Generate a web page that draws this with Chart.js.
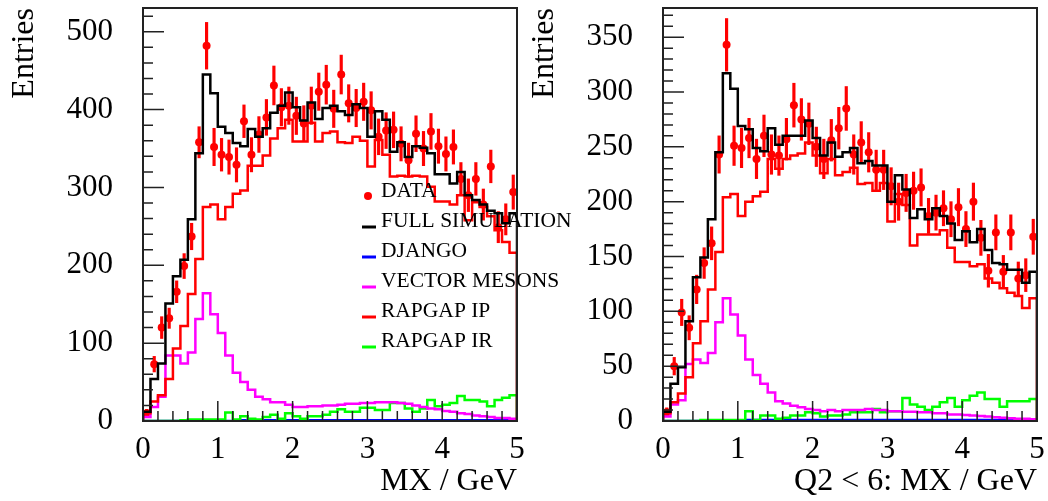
<!DOCTYPE html>
<html>
<head>
<meta charset="utf-8">
<script src="https://cdn.jsdelivr.net/npm/chart.js@4.4.1/dist/chart.umd.min.js"></script>
<style>
  body { margin: 0; background: #fff; }
  #wrap { position: relative; width: 1048px; height: 501px; }
  canvas { position: absolute; left: 0; top: 0; }
</style>
</head>
<body>
<div id="wrap">
  <canvas id="chartLeft" width="1048" height="501"></canvas>
  <canvas id="chartRight" width="1048" height="501"></canvas>
</div>
<script>
// 50 bins of 0.1 GeV from 0 to 5
var binWidth = 0.1;
var xTicks = [0, 1, 2, 3, 4, 5];
var yTicksLeft = [0, 100, 200, 300, 400, 500];
var yTicksRight = [0, 50, 100, 150, 200, 250, 300, 350];
var legendLabels = ['DATA', 'FULL SIMULATION', 'DJANGO', 'VECTOR MESONS', 'RAPGAP IP', 'RAPGAP IR'];

// Left: all Q2
var dataLeft = [10, 73, 120, 132, 166, 199, 237, 358, 482, 352, 342, 339, 329, 385, 342, 368, 390, 431, 403, 405,
  392, 382, 405, 423, 432, 401, 445, 408, 402, 410, 399, 365, 373, 374, 356, 335, 369, 350, 372, 353,
  343, 352, 311, 290, 311, 278, 327, 249, 259, 294];
var errLeft = [5, 10, 14, 13, 14, 16, 17, 20, 30, 24, 21, 22, 22, 21, 22, 23, 23, 25, 24, 24,
  24, 23, 24, 24, 25, 24, 25, 24, 24, 24, 24, 23, 23, 23, 22, 22, 23, 22, 23, 22,
  22, 22, 21, 21, 21, 20, 21, 20, 20, 22];
var fullSimLeft = [12, 54, 74, 151, 186, 207, 259, 344, 445, 421, 378, 370, 357, 353, 375, 365, 376, 396, 405, 422,
  403, 386, 409, 388, 402, 405, 398, 393, 407, 402, 365, 398, 387, 346, 358, 339, 353, 351, 344, 317,
  317, 305, 320, 290, 284, 278, 270, 267, 254, 267];
var djangoLeft = [0, 0, 0, 0, 0, 0, 0, 0, 0, 0, 0, 0, 0, 1, 1, 1, 1, 1, 1, 1,
  1, 1, 1, 1, 1, 1, 1, 1, 1, 1, 1, 1, 1, 1, 1, 1, 1, 1, 1, 1,
  1, 1, 1, 1, 1, 1, 1, 1, 1, 1];
var vmLeft = [5, 18, 31, 84, 84, 74, 88, 131, 164, 137, 113, 84, 62, 50, 40, 31, 28, 24, 24, 21,
  18, 18, 19, 19, 20, 20, 21, 22, 22, 23, 23, 24, 24, 24, 23, 22, 20, 18, 16, 15,
  13, 12, 10, 9, 7, 6, 5, 4, 4, 3];
var rapgapIpLeft = [10, 25, 33, 54, 93, 122, 163, 208, 275, 278, 259, 275, 292, 296, 328, 328, 341, 363, 376, 387,
  359, 359, 383, 359, 370, 372, 358, 357, 365, 360, 327, 361, 342, 314, 315, 314, 315, 314, 301, 282,
  282, 278, 290, 258, 281, 275, 263, 245, 230, 216];
var rapgapIrLeft = [0, 0, 0, 0, 0, 1, 2, 2, 2, 2, 2, 11, 2, 6, 3, 2, 5, 8, 3, 10,
  6, 3, 6, 6, 8, 12, 15, 12, 12, 17, 17, 14, 14, 23, 23, 16, 12, 16, 27, 19,
  21, 23, 32, 27, 27, 25, 19, 27, 30, 33];

// Right: Q2 < 6
var dataRight = [8, 50, 99, 85, 120, 144, 162, 243, 343, 251, 249, 258, 239, 260, 243, 242, 257, 288, 275, 271,
  250, 239, 256, 267, 285, 243, 254, 245, 229, 229, 214, 200, 208, 210, 213, 187, 190, 194, 184, 195,
  175, 200, 167, 137, 172, 136, 172, 130, 133, 168];
var errRight = [4, 8, 12, 11, 13, 14, 15, 17, 24, 18, 18, 18, 18, 19, 18, 18, 19, 20, 19, 19,
  18, 18, 19, 19, 20, 18, 19, 18, 18, 18, 17, 17, 17, 17, 17, 16, 16, 16, 16, 17,
  16, 17, 16, 15, 16, 15, 16, 15, 15, 16];
var fullSimRight = [8.5, 34, 49, 91, 131, 149, 184, 245, 317, 303, 269, 266, 249, 246, 267, 252, 260, 260, 260, 274,
  258, 242, 254, 241, 245, 249, 235, 237, 233, 233, 200, 224, 211, 185, 193, 184, 194, 187, 180, 165,
  173, 163, 175, 156, 144, 143, 138, 138, 126, 136];
var djangoRight = [0, 0, 0, 0, 0, 0, 0, 0, 0, 0, 0, 1, 1, 1, 1, 1, 1, 1, 1, 1,
  1, 1, 1, 1, 1, 1, 1, 1, 1, 1, 1, 1, 1, 1, 1, 1, 1, 1, 1, 1,
  1, 1, 1, 1, 1, 1, 1, 1, 1, 1];
var vmRight = [4, 15, 19, 52, 56, 53, 62, 90, 112, 97, 78, 56, 42, 34, 26, 18, 16, 14, 12.5, 11,
  10, 9, 10, 9, 10, 10, 10, 11, 10, 10, 9, 9, 8.5, 8.5, 8, 8, 7, 7, 6, 6,
  5.5, 5, 4.5, 4, 3.5, 3, 2.5, 2, 2, 1.5];
var rapgapIpRight = [7, 17, 25, 40, 71, 91, 120, 154, 204, 207, 187, 200, 205, 209, 239, 230, 239, 242, 244, 254,
  242, 226, 239, 224, 227, 231, 216, 217, 210, 217, 182, 207, 197, 160, 170, 170, 170, 174, 158, 145,
  145, 141, 143, 130, 126, 121, 117, 114, 103, 112];
var rapgapIrRight = [0, 0, 0, 0, 0, 1, 1, 1, 1, 1, 1, 9, 1, 5, 5, 2, 3, 5, 5, 8,
  7, 4, 5, 5, 6, 8, 8, 8, 11, 8, 9, 9, 21, 15, 13, 10, 13, 17, 21, 13,
  19, 23, 26, 20, 20, 13, 18, 18, 18, 20];

var serif = 'Liberation Serif';

// outline of a histogram: from the baseline up, across the bins, back down at x = 5
function histPoints(vals) {
  var pts = [{x: 0, y: 0}];
  for (var i = 0; i < vals.length; i++) {
    pts.push({x: i * binWidth, y: vals[i]});
  }
  pts.push({x: vals.length * binWidth, y: vals[vals.length - 1]});
  pts.push({x: vals.length * binWidth, y: 0});
  return pts;
}

function histDataset(vals, color) {
  return {
    type: 'line',
    data: histPoints(vals),
    borderColor: color,
    borderWidth: 2.5,
    stepped: 'before',
    pointRadius: 0,
    fill: false,
    tension: 0
  };
}

// frame with ROOT-like ticks on the inside
var framePlugin = {
  id: 'frame',
  afterDatasetsDraw: function (chart, args, opts) {
    var a = chart.chartArea, ctx = chart.ctx;
    var xs = chart.scales.x, ys = chart.scales.y;
    ctx.save();
    ctx.strokeStyle = '#222';
    ctx.lineWidth = 1.5;
    ctx.beginPath();
    for (var k = 0; k <= 25; k++) {
      var px = xs.getPixelForValue(k * 0.2);
      var len = (k % 5 === 0) ? 20 : 10;
      ctx.moveTo(px, a.bottom);
      ctx.lineTo(px, a.bottom - len);
    }
    var n = Math.floor(ys.max / opts.minor);
    for (var j = 0; j <= n; j++) {
      var v = j * opts.minor;
      var py = ys.getPixelForValue(v);
      var l = (v % opts.major === 0) ? 21 : 10;
      ctx.moveTo(a.left, py);
      ctx.lineTo(a.left + l, py);
    }
    ctx.stroke();
    ctx.lineWidth = 2;
    ctx.strokeRect(a.left, a.top, a.right - a.left, a.bottom - a.top);
    ctx.restore();
  }
};

var legendPlugin = {
  id: 'histLegend',
  afterDraw: function (chart, args, opts) {
    if (!opts.show) return;
    var ctx = chart.ctx;
    var colors = ['#ff0000', '#000000', '#0000ff', '#ff00ff', '#ff0000', '#00ff00'];
    ctx.save();
    ctx.font = '21.5px "' + serif + '"';
    ctx.fillStyle = '#000';
    ctx.textBaseline = 'alphabetic';
    for (var i = 0; i < legendLabels.length; i++) {
      var y = 197 + i * 30;
      if (i === 0) {
        ctx.beginPath();
        ctx.fillStyle = colors[0];
        ctx.arc(368, y - 1, 4, 0, Math.PI * 2);
        ctx.fill();
      } else {
        ctx.strokeStyle = colors[i];
        ctx.lineWidth = 3;
        ctx.beginPath();
        ctx.moveTo(362, y);
        ctx.lineTo(376, y);
        ctx.stroke();
      }
      ctx.fillStyle = '#000';
      ctx.fillText(legendLabels[i], 381, y);
    }
    ctx.restore();
  }
};

function makeChart(id, p) {
  var points = p.data.map(function (v, i) { return {x: (i + 0.5) * binWidth, y: v}; });
  var bars = p.data.map(function (v, i) {
    return {x: (i + 0.5) * binWidth, y: [v - p.err[i], v + p.err[i]]};
  });
  var ctx = document.getElementById(id).getContext('2d');
  return new Chart(ctx, {
    type: 'line',
    data: {
      datasets: [
        histDataset(p.full, '#000000'),
        histDataset(p.ip, '#ff0000'),
        histDataset(p.vm, '#ff00ff'),
        histDataset(p.ir, '#00ff00'),
        histDataset(p.django, '#0000ff'),
        {
          type: 'scatter',
          data: points,
          pointRadius: 4,
          pointBackgroundColor: '#ff0000',
          pointBorderWidth: 0,
          showLine: false
        },
        {
          type: 'bar',
          data: bars,
          backgroundColor: '#ff0000',
          barThickness: 2.5,
          borderWidth: 0,
          grouped: false
        }
      ]
    },
    options: {
      responsive: false,
      animation: false,
      devicePixelRatio: 1,
      layout: {autoPadding: false, padding: {left: p.padLeft, right: p.padRight, top: 8, bottom: 0}},
      plugins: {
        legend: {display: false},
        tooltip: {enabled: false},
        frame: {minor: p.minor, major: p.major},
        histLegend: {show: p.showLegend}
      },
      scales: {
        x: {
          type: 'linear',
          min: 0,
          max: 5,
          offset: false,
          grid: {display: false, drawTicks: false},
          border: {display: false},
          afterBuildTicks: function (s) { s.ticks = xTicks.map(function (v) { return {value: v}; }); },
          afterFit: function (s) { s.height = 80; s.paddingLeft = 0; s.paddingRight = 0; },
          ticks: {font: {family: serif, size: 31}, color: '#000', padding: 10, maxRotation: 0},
          title: {display: true, text: p.xTitle, align: 'end', color: '#000',
            font: {family: serif, size: 32}, padding: {top: 0, bottom: 0}}
        },
        y: {
          type: 'linear',
          min: 0,
          max: p.yMax,
          grid: {display: false, drawTicks: false},
          border: {display: false},
          afterBuildTicks: function (s) { s.ticks = p.yTicks.map(function (v) { return {value: v}; }); },
          afterFit: function (s) { s.width = 143; s.paddingTop = 0; s.paddingBottom = 0; },
          ticks: {font: {family: serif, size: 31}, color: '#000', padding: 30},
          title: {display: true, text: 'Entries', align: 'end', color: '#000',
            font: {family: serif, size: 32}, padding: {top: 5, bottom: 0}}
        }
      }
    },
    plugins: [framePlugin, legendPlugin]
  });
}

makeChart('chartLeft', {
  data: dataLeft, err: errLeft, full: fullSimLeft, ip: rapgapIpLeft, vm: vmLeft,
  ir: rapgapIrLeft, django: djangoLeft, yTicks: yTicksLeft, yMax: 530.5,
  minor: 20, major: 100, padLeft: 0, padRight: 531, xTitle: 'MX / GeV', showLegend: true
});

makeChart('chartRight', {
  data: dataRight, err: errRight, full: fullSimRight, ip: rapgapIpRight, vm: vmRight,
  ir: rapgapIrRight, django: djangoRight, yTicks: yTicksRight, yMax: 376.6,
  minor: 10, major: 50, padLeft: 520, padRight: 11, xTitle: 'Q2 < 6: MX / GeV', showLegend: false
});
</script>
</body>
</html>
